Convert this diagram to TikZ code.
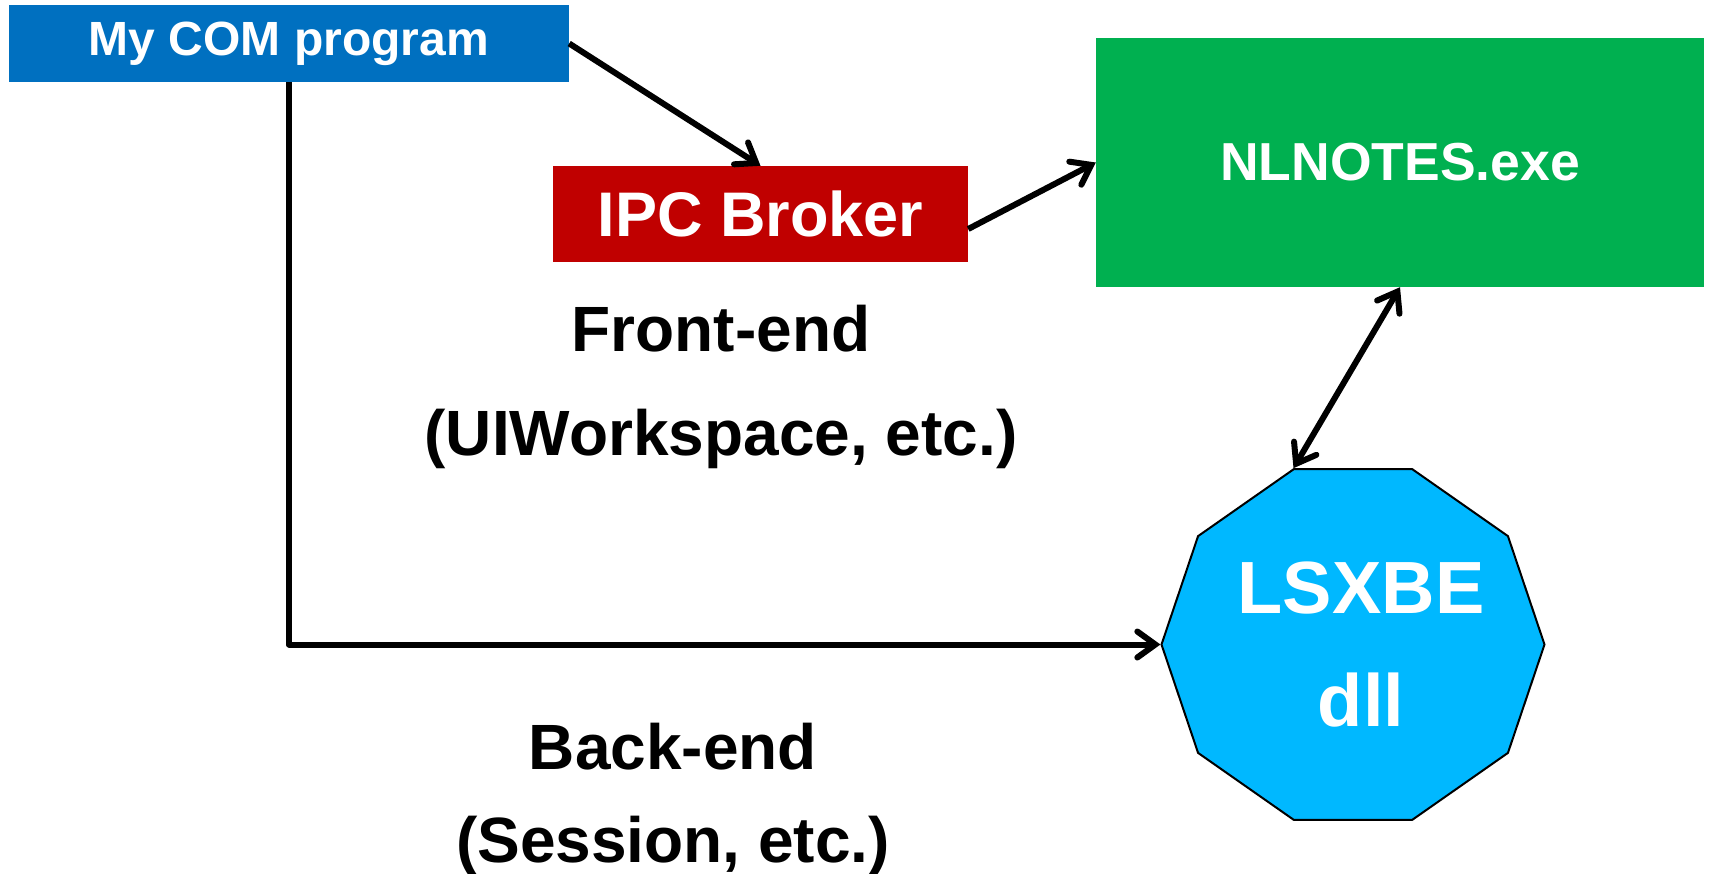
\documentclass[tikz,border=0pt]{standalone}
\usepackage{fontspec}
\setmainfont{Liberation Sans}
\usetikzlibrary{arrows.meta,shapes.geometric}
\definecolor{comblue}{HTML}{0070C0}
\definecolor{ipcred}{HTML}{C00000}
\definecolor{nlgreen}{HTML}{00B050}
\definecolor{lsxblue}{HTML}{00B8FF}
\begin{document}
\begin{tikzpicture}[x=1pt,y=-1pt,
  box/.style={rectangle, inner sep=0pt, text=white},
  lbl/.style={align=center, anchor=base, text=black},
  tipbarb/.tip={Straight Barb[length=18pt,width=26pt,line cap=round]},
  conn/.style={line width=6pt, line join=round, -tipbarb},
  dconn/.style={line width=6pt, tipbarb-tipbarb}
]
\useasboundingbox (0,0) rectangle (1710,873);
\node[box, fill=comblue, minimum width=560pt, minimum height=77pt,
  font=\bfseries\fontsize{48}{56}\selectfont] (com) at (289,43.5) {My COM program};
\node[box, fill=ipcred, minimum width=415pt, minimum height=96pt,
  font=\bfseries\fontsize{63}{75}\selectfont] (ipc) at (760.5,214) {IPC Broker};
\node[box, fill=nlgreen, minimum width=608pt, minimum height=249pt,
  font=\bfseries\fontsize{53.5}{62}\selectfont] (nl) at (1400,162.5) {NLNOTES.exe};
\coordinate (lsxc) at (1353,644.5);
\node[regular polygon, regular polygon sides=10, minimum size=383pt, inner sep=0pt,
  draw=black, line width=2pt, fill=lsxblue, yscale=0.963, transform shape] (lsx) at (lsxc) {};
\node[text=white, align=center, inner sep=0pt,
  font=\bfseries\fontsize{74}{113}\selectfont] (lsxt) at ([xshift=8pt]lsxc) {LSXBE\\dll};
\node[lbl, font=\bfseries\fontsize{64}{104}\selectfont] (fe) at (721,455) {Front-end\\(UIWorkspace, etc.)};
\node[lbl, font=\bfseries\fontsize{64}{93}\selectfont] (be) at (673,862) {Back-end\\(Session, etc.)};
\draw[conn] (com.east) -- (ipc.north);
\draw[conn] ([yshift=-15pt]ipc.east) -- (nl.west);
\draw[dconn] (nl.south) -- (lsx.108);
\draw[conn] (com.south) |- (lsx.west);
\end{tikzpicture}
\end{document}
